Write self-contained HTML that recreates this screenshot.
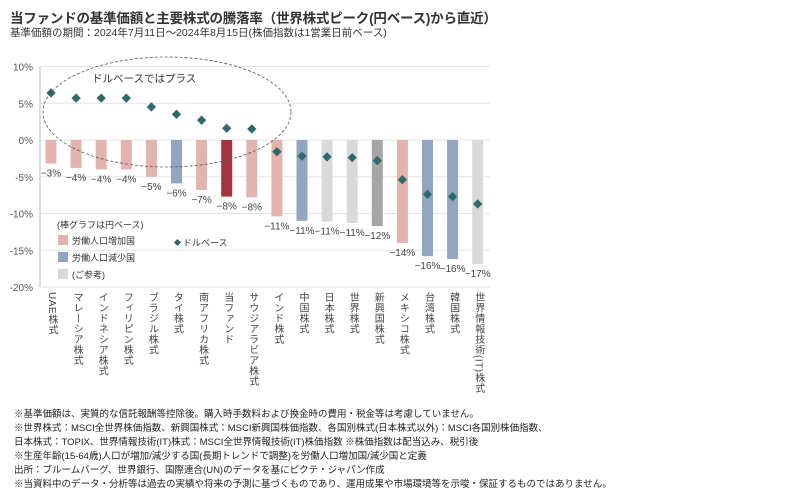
<!DOCTYPE html>
<html><head><meta charset="utf-8">
<style>
body{margin:0;background:#fff;font-family:"Liberation Sans","Noto Sans CJK JP",sans-serif;color:#333}
#wrap{position:relative;width:785px;height:493px;overflow:hidden}
.t{position:absolute;white-space:nowrap}
.cat{position:absolute;top:292px;writing-mode:vertical-rl;font-size:10px;color:#444;letter-spacing:0.5px;line-height:12px}
.fn{position:absolute;left:14px;font-size:9.5px;color:#222;white-space:nowrap}
</style></head><body>
<div id="wrap">
<div class="t" style="left:10px;top:7px;font-size:13.5px;font-weight:bold;color:#333;letter-spacing:-0.2px">当ファンドの基準価額と主要株式の騰落率（世界株式ピーク(円ベース)から直近）</div>
<div class="t" style="left:10px;top:25px;font-size:10.5px;color:#333">基準価額の期間：2024年7月11日～2024年8月15日(株価指数は1営業日前ベース)</div>
<svg id="chart" width="785" height="493" style="position:absolute;left:0;top:0"></svg>
<div class="fn" style="top:406px">※基準価額は、実質的な信託報酬等控除後。購入時手数料および換金時の費用・税金等は考慮していません。</div>
<div class="fn" style="top:420px">※世界株式：MSCI全世界株価指数、新興国株式：MSCI新興国株価指数、各国別株式(日本株式以外)：MSCI各国別株価指数、</div>
<div class="fn" style="top:434px">日本株式：TOPIX、世界情報技術(IT)株式：MSCI全世界情報技術(IT)株価指数 ※株価指数は配当込み、税引後</div>
<div class="fn" style="top:448px">※生産年齢(15-64歳)人口が増加/減少する国(長期トレンドで調整)を労働人口増加国/減少国と定義</div>
<div class="fn" style="top:462px">出所：ブルームバーグ、世界銀行、国際連合(UN)のデータを基にピクテ・ジャパン作成</div>
<div class="fn" style="top:476px">※当資料中のデータ・分析等は過去の実績や将来の予測に基づくものであり、運用成果や市場環境等を示唆・保証するものではありません。</div>
</div>
<script>
const categories=["UAE株式","マレーシア株式","インドネシア株式","フィリピン株式","ブラジル株式","タイ株式","南アフリカ株式","当ファンド","サウジアラビア株式","インド株式","中国株式","日本株式","世界株式","新興国株式","メキシコ株式","台湾株式","韓国株式","世界情報技術(IT)株式"];
const yenValues=[-3.2,-3.8,-4,-4,-5,-5.9,-6.8,-7.7,-7.8,-10.4,-11,-11.1,-11.3,-11.7,-14,-15.8,-16.2,-16.9];
const valueLabels=["−3%","−4%","−4%","−4%","−5%","−6%","−7%","−8%","−8%","−11%","−11%","−11%","−11%","−12%","−14%","−16%","−16%","−17%"];
const usdValues=[6.4,5.7,5.7,5.7,4.5,3.5,2.7,1.6,1.5,-1.6,-2.2,-2.3,-2.4,-2.8,-5.4,-7.4,-7.7,-8.7];
const groups=["inc","inc","inc","inc","inc","dec","inc","fund","inc","inc","dec","ref","ref","em","inc","dec","dec","ref"];
const yTicks=[10,5,0,-5,-10,-15,-20];
const yTickLabels=["10%","5%","0%","-5%","-10%","-15%","-20%"];
const colors={inc:"#e2b4ad",dec:"#93a6c1",ref:"#d9d9d9",em:"#a6a6a6",fund:"#a2343d"};
const svg=document.getElementById('chart');const NS="http://www.w3.org/2000/svg";
const y=v=>140-v*7.35;const x=i=>51+i*25.1;
function mk(t,a){const e=document.createElementNS(NS,t);for(const k in a)e.setAttribute(k,a[k]);svg.appendChild(e);return e;}
yTicks.forEach((v,i)=>{const l=mk('line',{x1:40,x2:490,y1:y(v),y2:y(v),stroke:'#e3e3e3','stroke-width':1});

const t=mk('text',{x:33,y:y(v)+4,'text-anchor':'end','font-size':10,fill:'#555'});t.textContent=yTickLabels[i];
});
const ax=mk('line',{x1:40,x2:40,y1:y(10),y2:y(-20),stroke:'#bbb'});
categories.forEach((c,i)=>{
const b=mk('rect',{x:x(i)-5.5,y:y(0),width:11,height:y(yenValues[i])-y(0),fill:colors[groups[i]]});

const t=mk('text',{x:x(i),y:y(yenValues[i])+13,'text-anchor':'middle','font-size':10,fill:'#444'});t.textContent=valueLabels[i];

const d=mk('rect',{x:x(i)-3.3,y:y(usdValues[i])-3.3,width:6.6,height:6.6,fill:'#2f6a6a',transform:`rotate(45 ${x(i)} ${y(usdValues[i])})`});

const cd=document.createElement('div');cd.className='cat';cd.style.left=(x(i)-6)+'px';cd.textContent=c;

document.getElementById('wrap').appendChild(cd);
});
const el=mk('ellipse',{cx:167,cy:112,rx:124,ry:55,fill:'none',stroke:'#555','stroke-dasharray':'3,2','stroke-width':0.8});

const et=mk('text',{x:92,y:82,'font-size':10.5,fill:'#333'});et.textContent='ドルベースではプラス';

const lt=mk('text',{x:57,y:228,'font-size':9,fill:'#333'});lt.textContent='(棒グラフは円ベース)';

[["inc","労働人口増加国"],["dec","労働人口減少国"],["ref","(ご参考)"]].forEach((g,i)=>{
const r=mk('rect',{x:58,y:235+i*17,width:10,height:10,fill:colors[g[0]]});
const t=mk('text',{x:72,y:244+i*17,'font-size':9,fill:'#333'});t.textContent=g[1];});
const lm=mk('rect',{x:175,y:240,width:5,height:5,fill:'#2f6a6a',transform:'rotate(45 177.5 242.5)'});
const lmt=mk('text',{x:183,y:246,'font-size':9,fill:'#333'});lmt.textContent='ドルベース';
</script>
</body></html>
